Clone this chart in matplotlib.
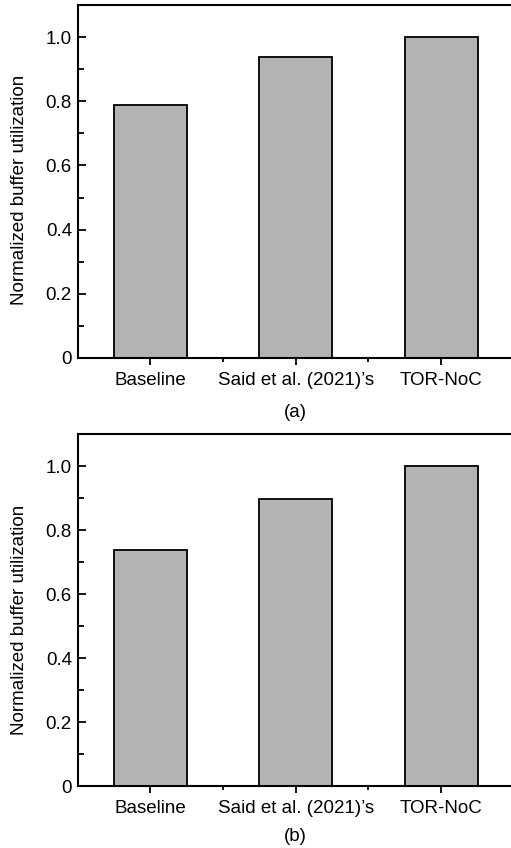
import numpy as np
import matplotlib
matplotlib.use("Agg")
from matplotlib import pyplot as plt
from matplotlib.ticker import FuncFormatter, MultipleLocator, FixedLocator

plt.rcParams['font.family'] = ['Liberation Sans', 'DejaVu Sans']

categories = ["Baseline", "Said et al. (2021)\u2019s", "TOR-NoC"]
util_a = [0.787, 0.937, 1.0]
util_b = [0.737, 0.897, 1.0]
panel_labels = ["(a)", "(b)"]

BAR_COLOR = "#b4b4b4"
FS = 13.5


def draw_panel(ax, values):
    x = np.arange(len(categories))
    ax.bar(x, values, width=0.5, color=BAR_COLOR, edgecolor="black", linewidth=1.3, zorder=2)
    ax.set_xlim(-0.5, len(categories) - 0.5)
    ax.set_ylim(0, 1.1)
    ax.set_xticks(x)
    ax.set_xticklabels(categories, fontsize=FS)
    ax.xaxis.set_minor_locator(FixedLocator([0.5, 1.5]))
    ax.yaxis.set_major_locator(MultipleLocator(0.2))
    ax.yaxis.set_minor_locator(MultipleLocator(0.1))
    ax.yaxis.set_major_formatter(FuncFormatter(lambda v, p: "0" if abs(v) < 1e-9 else f"{v:.1f}"))
    ax.tick_params(axis="y", which="major", direction="in", length=6, width=1.3, labelsize=FS, pad=4)
    ax.tick_params(axis="y", which="minor", direction="in", length=4, width=1.3)
    ax.tick_params(axis="x", which="major", direction="out", length=5, width=1.3, pad=5)
    ax.tick_params(axis="x", which="minor", direction="out", length=3, width=1.3)
    for s in ax.spines.values():
        s.set_linewidth(1.5)
    ax.set_ylabel("Normalized buffer utilization", fontsize=FS, va="center")


fig = plt.figure(figsize=(5.11, 8.48), dpi=100)
ax1 = fig.add_axes([0.1517, 0.578, 0.854, 0.416])
ax2 = fig.add_axes([0.1517, 0.0731, 0.854, 0.415])

draw_panel(ax1, util_a)
draw_panel(ax2, util_b)
ax1.yaxis.set_label_coords(-0.134, 0.476)
ax2.yaxis.set_label_coords(-0.134, 0.472)

cx = 0.1517 + 0.854 / 2
fig.text(cx, 0.513, panel_labels[0], ha="center", va="center", fontsize=FS)
fig.text(cx, 0.013, panel_labels[1], ha="center", va="center", fontsize=FS)

fig.savefig("out.png", dpi=100)
